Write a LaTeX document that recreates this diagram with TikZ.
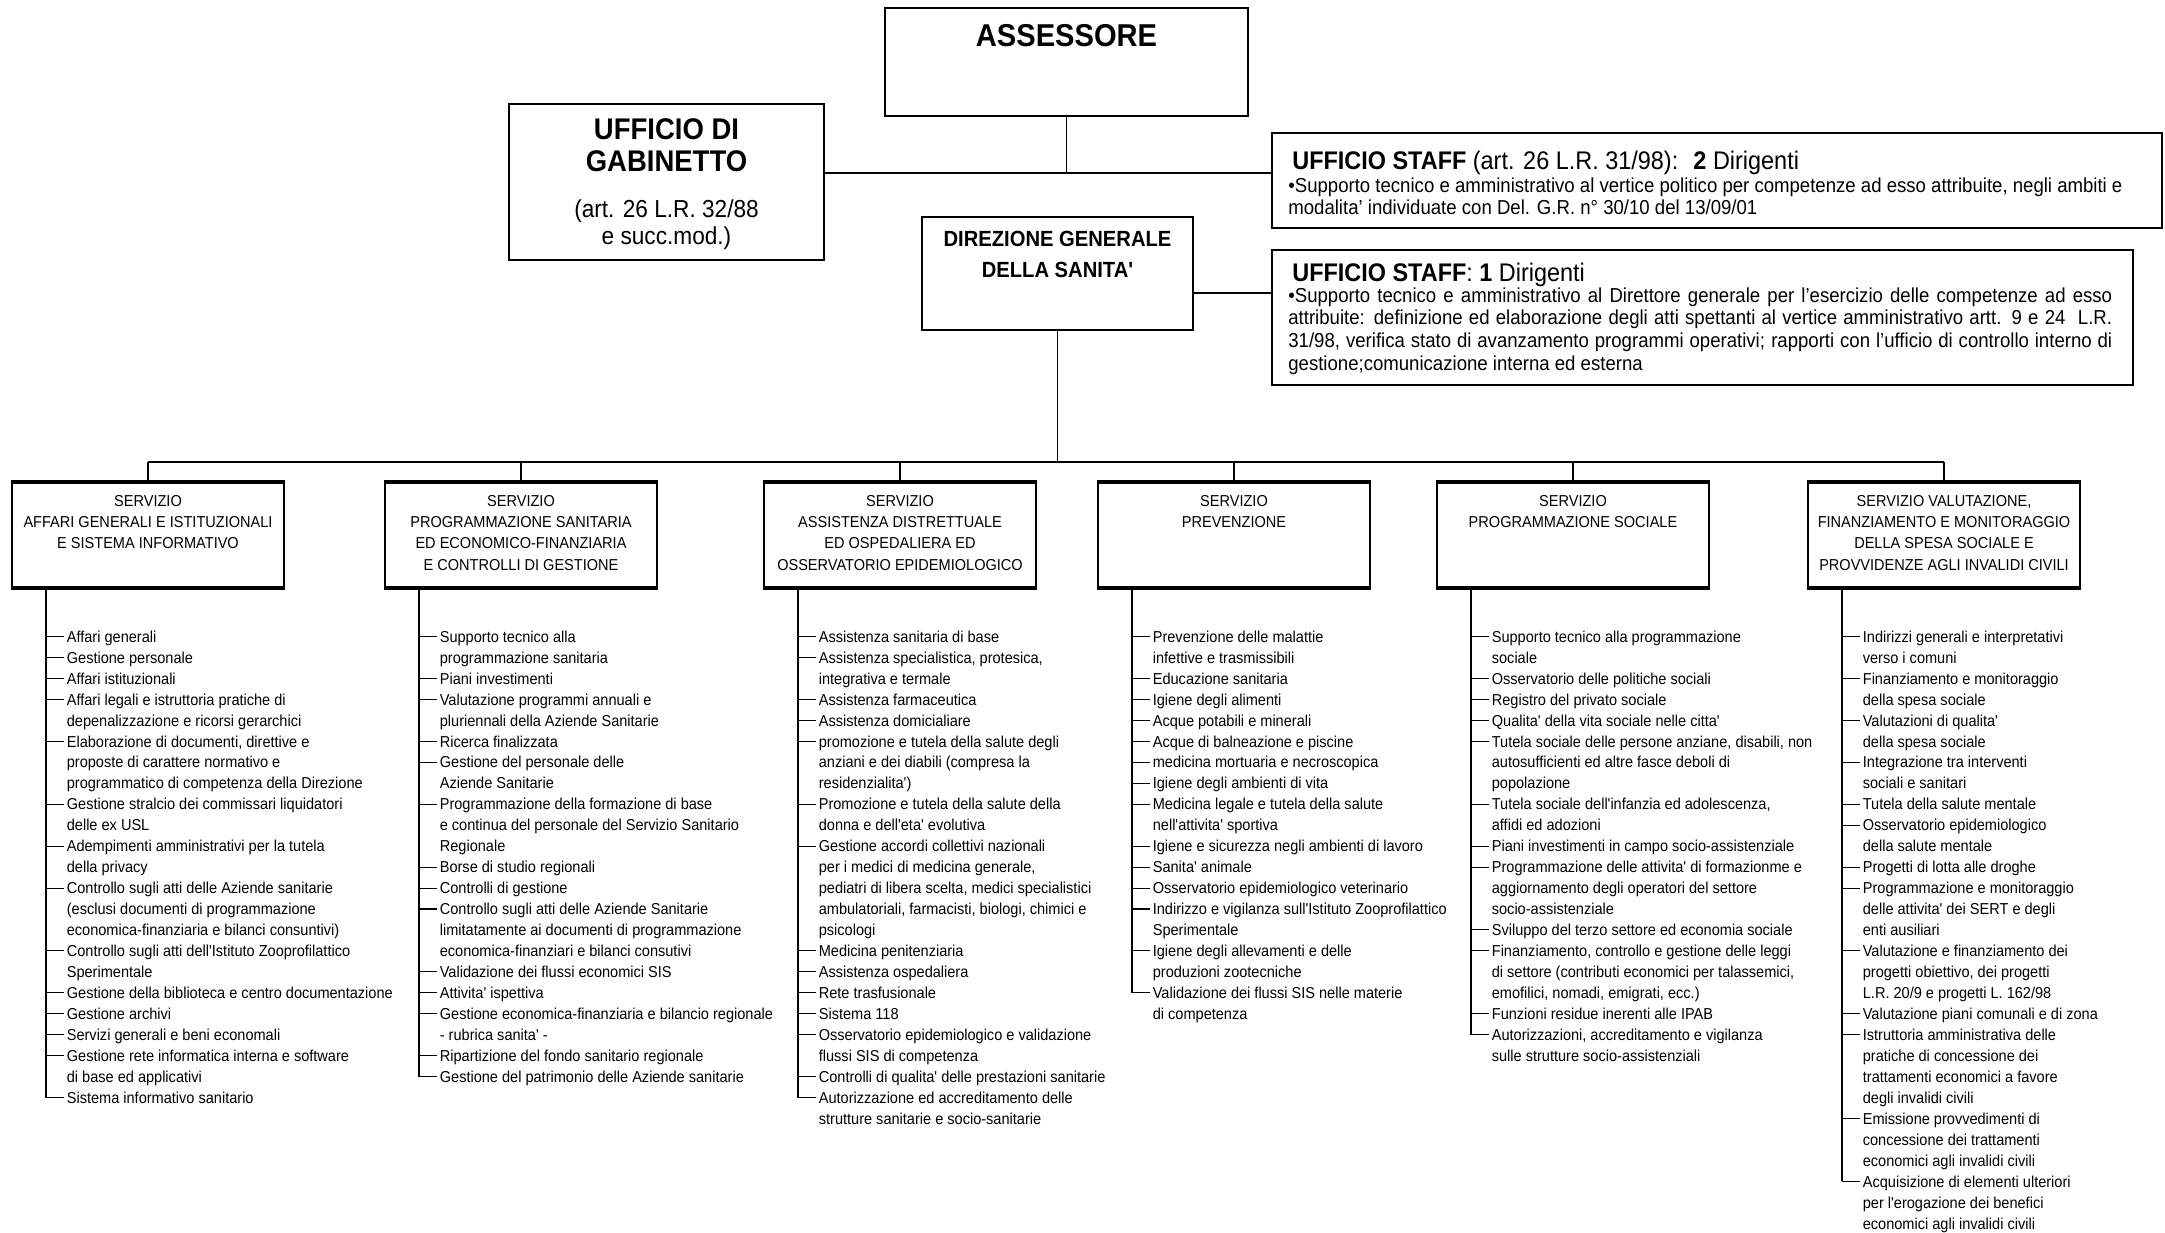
\documentclass[tikz,border=0pt]{standalone}
\usepackage{fontspec}
\setmainfont{Liberation Sans}[FakeStretch=0.92,Ligatures=TeXOff]
\usetikzlibrary{positioning}
\setlength{\parindent}{0pt}
\newcommand{\titolo}{\fontsize{18}{20}\selectfont\bfseries}
\newcommand{\gabtit}{\fontsize{17}{18.1}\selectfont\bfseries}
\newcommand{\gabrif}{\fontsize{14}{15.3}\selectfont}
\newcommand{\dirtit}{\fontsize{12.5}{17.6}\selectfont\bfseries}
\newcommand{\intest}{\fontsize{14.5}{16}\selectfont}
\newcommand{\corpo}{\fontsize{11.5}{13}\selectfont}
\newcommand{\sigla}{\fontsize{9}{12.2}\selectfont}
\newcommand{\voci}{\fontsize{9}{11}\selectfont}
\tikzset{
  riquadro/.style={draw, line width=1.5pt, inner sep=0pt}, % uffici in alto
  servizio/.style={draw, line width=0.9pt, minimum width=5.44cm, minimum height=2.08cm, inner sep=0pt},
  bordo/.style={line width=2.2pt}, % bordo spesso sopra e sotto
  filo/.style={line width=1pt},
  ramo/.style={line width=0.6pt},
  dicitura/.style={inner sep=0pt, align=center},
  voce/.style={anchor=west, inner xsep=0.05cm, inner ysep=0pt, text height=6.5pt, text depth=0pt, font=\voci}
}
% elenco delle funzioni: #1 servizio, #2 x del filo, #3 righe (1 = con ramo)
\newcommand{\funzioni}[3]{%
  \foreach \tk/\txt [count=\i] in {#3}{%
    \pgfmathsetmacro{\yy}{636.5+(\i-1)*20.96}
    \node[voce] (#1-\i) at ({#2+18},\yy) {\txt};
    \ifnum\tk=1
      \draw[ramo] (#2,0 |- #1-\i.west) -- (#1-\i.west);
      \xdef\ultimo{\i}%
    \fi
  }
  \draw[ramo] (#1.south -| #2,0) -- (#2,0 |- #1-\ultimo.west);
}

\begin{document}
\begin{tikzpicture}[x=0.02cm, y=-0.02cm]
\useasboundingbox (0,0) rectangle (2165,1232);

%Riquadri superiori
\node[riquadro, minimum width=7.26cm, minimum height=2.16cm] (ass) at (1066.5,62) {};
\node[dicitura, font=\titolo, below=0.35cm of ass.north] (ass-t) {ASSESSORE};

\node[riquadro, minimum width=6.3cm, minimum height=3.12cm] (gab) at (666.5,182) {};
\node[dicitura, font=\gabtit, below=0.32cm of gab.north] (gab-t) {UFFICIO DI\\GABINETTO};
\node[dicitura, font=\gabrif, below=0.54cm of gab-t] (gab-r) {(art. 26 L.R. 32/88\\e succ.mod.)};

\node[riquadro, minimum width=17.8cm, minimum height=1.9cm] (st1) at (1717,180.5) {};
\node[inner sep=0pt, anchor=base west, font=\intest] (st1-t) at (1292,169)
  {\textbf{UFFICIO STAFF} (art. 26 L.R. 31/98): \ \textbf{2} Dirigenti};
\node[inner sep=0pt, anchor=north west, align=left, font=\corpo] (st1-c) at (1288,177)
  {•Supporto tecnico e amministrativo al vertice politico per competenze ad esso attribuite, negli ambiti e\\
   modalita’ individuate con Del. G.R. n° 30/10 del 13/09/01};

\node[riquadro, minimum width=5.42cm, minimum height=2.26cm] (dir) at (1057.5,273.5) {};
\node[dicitura, font=\dirtit, below=0.3cm of dir.north] (dir-t) {DIREZIONE GENERALE\\DELLA SANITA'};

\node[riquadro, minimum width=17.22cm, minimum height=2.7cm] (st2) at (1702.5,317.5) {};
\node[inner sep=0pt, anchor=base west, font=\intest] (st2-t) at (1292,281)
  {\textbf{UFFICIO STAFF}: \textbf{1} Dirigenti};
\node[inner sep=0pt, anchor=north west, text width=16.48cm, align=justify, font=\corpo] (st2-c) at (1288,287)
  {•Supporto tecnico e amministrativo al Direttore generale per l’esercizio delle competenze ad esso\linebreak
   attribuite: definizione ed elaborazione degli atti spettanti al vertice amministrativo artt. 9 e 24 \ L.R.\linebreak
   31/98, verifica stato di avanzamento programmi operativi; rapporti con l’ufficio di controllo interno di\linebreak
   gestione;comunicazione interna ed esterna};

%Collegamenti
\coordinate (nodo) at (ass.south |- 0,173);
\draw[filo] (ass.south) -- (nodo);
\draw[filo] (gab.east |- nodo) -- (st1.west |- nodo);
\draw[filo] (dir.east |- 0,293) -- (st2.west |- 0,293);
\coordinate (bus) at (dir.south |- 0,462);
\draw[filo] (dir.south) -- (bus);

%Servizi
\foreach \n/\x/\txt in {
  1/148/{SERVIZIO\\AFFARI GENERALI E ISTITUZIONALI\\E SISTEMA INFORMATIVO},
  2/521/{SERVIZIO\\PROGRAMMAZIONE SANITARIA\\ED ECONOMICO-FINANZIARIA\\E CONTROLLI DI GESTIONE},
  3/900/{SERVIZIO\\ASSISTENZA DISTRETTUALE\\ED OSPEDALIERA ED\\OSSERVATORIO EPIDEMIOLOGICO},
  4/1234/{SERVIZIO\\PREVENZIONE},
  5/1573/{SERVIZIO\\PROGRAMMAZIONE SOCIALE},
  6/1944/{SERVIZIO VALUTAZIONE,\\FINANZIAMENTO E MONITORAGGIO\\DELLA SPESA SOCIALE E\\PROVVIDENZE AGLI INVALIDI CIVILI}}{
  \node[servizio] (s\n) at (\x,535) {};
  \draw[bordo] (s\n.north west) -- (s\n.north east) (s\n.south west) -- (s\n.south east);
  \node[dicitura, font=\sigla, below=0.25cm of s\n.north] (t\n) {\txt};
  \draw[filo] (s\n.north) -- (s\n.north |- bus);
}
\draw[filo] (s1.north |- bus) -- (s6.north |- bus);

%Funzioni
\funzioni{s1}{46}{1/Affari generali,
  1/Gestione personale,
  1/Affari istituzionali,
  1/Affari legali e istruttoria pratiche di,
  0/depenalizzazione e ricorsi gerarchici,
  1/{Elaborazione di documenti, direttive e},
  0/proposte di carattere normativo e,
  0/programmatico di competenza della Direzione,
  1/Gestione stralcio dei commissari liquidatori,
  0/delle ex USL,
  1/Adempimenti amministrativi per la tutela,
  0/della privacy,
  1/Controllo sugli atti delle Aziende sanitarie,
  0/(esclusi documenti di programmazione,
  0/economica-finanziaria e bilanci consuntivi),
  1/Controllo sugli atti dell'Istituto Zooprofilattico,
  0/Sperimentale,
  1/Gestione della biblioteca e centro documentazione,
  1/Gestione archivi,
  1/Servizi generali e beni economali,
  1/Gestione rete informatica interna e software,
  0/di base ed applicativi,
  1/Sistema informativo sanitario}

\funzioni{s2}{419}{1/Supporto tecnico alla,
  0/programmazione sanitaria,
  1/Piani investimenti,
  1/Valutazione programmi annuali e,
  0/pluriennali della Aziende Sanitarie,
  1/Ricerca finalizzata,
  1/Gestione del personale delle,
  0/Aziende Sanitarie,
  1/Programmazione della formazione di base,
  0/e continua del personale del Servizio Sanitario,
  0/Regionale,
  1/Borse di studio regionali,
  1/Controlli di gestione,
  1/Controllo sugli atti delle Aziende Sanitarie,
  0/limitatamente ai documenti di programmazione,
  0/economica-finanziari e bilanci consutivi,
  1/Validazione dei flussi economici SIS,
  1/Attivita' ispettiva,
  1/Gestione economica-finanziaria e bilancio regionale,
  0/- rubrica sanita' -,
  1/Ripartizione del fondo sanitario regionale,
  1/Gestione del patrimonio delle Aziende sanitarie}

\funzioni{s3}{798}{1/Assistenza sanitaria di base,
  1/{Assistenza specialistica, protesica,},
  0/integrativa e termale,
  1/Assistenza farmaceutica,
  1/Assistenza domicialiare,
  1/promozione e tutela della salute degli,
  0/anziani e dei diabili (compresa la,
  0/residenzialita'),
  1/Promozione e tutela della salute della,
  0/donna e dell'eta' evolutiva,
  1/Gestione accordi collettivi nazionali,
  0/{per i medici di medicina generale,},
  0/{pediatri di libera scelta, medici specialistici},
  0/{ambulatoriali, farmacisti, biologi, chimici e},
  0/psicologi,
  1/Medicina penitenziaria,
  1/Assistenza ospedaliera,
  1/Rete trasfusionale,
  1/Sistema 118,
  1/Osservatorio epidemiologico e validazione,
  0/flussi SIS di competenza,
  1/Controlli di qualita' delle prestazioni sanitarie,
  1/Autorizzazione ed accreditamento delle,
  0/strutture sanitarie e socio-sanitarie}

\funzioni{s4}{1132}{1/Prevenzione delle malattie,
  0/infettive e trasmissibili,
  1/Educazione sanitaria,
  1/Igiene degli alimenti,
  1/Acque potabili e minerali,
  1/Acque di balneazione e piscine,
  1/medicina mortuaria e necroscopica,
  1/Igiene degli ambienti di vita,
  1/Medicina legale e tutela della salute,
  0/nell'attivita' sportiva,
  1/Igiene e sicurezza negli ambienti di lavoro,
  1/Sanita' animale,
  1/Osservatorio epidemiologico veterinario,
  1/Indirizzo e vigilanza sull'Istituto Zooprofilattico,
  0/Sperimentale,
  1/Igiene degli allevamenti e delle,
  0/produzioni zootecniche,
  1/Validazione dei flussi SIS nelle materie,
  0/di competenza}

\funzioni{s5}{1471}{1/Supporto tecnico alla programmazione,
  0/sociale,
  1/Osservatorio delle politiche sociali,
  1/Registro del privato sociale,
  1/Qualita' della vita sociale nelle citta',
  1/{Tutela sociale delle persone anziane, disabili, non},
  0/autosufficienti ed altre fasce deboli di,
  0/popolazione,
  1/{Tutela sociale dell'infanzia ed adolescenza,},
  0/affidi ed adozioni,
  1/Piani investimenti in campo socio-assistenziale,
  1/Programmazione delle attivita' di formazionme e,
  0/aggiornamento degli operatori del settore,
  0/socio-assistenziale,
  1/Sviluppo del terzo settore ed economia sociale,
  1/{Finanziamento, controllo e gestione delle leggi},
  0/{di settore (contributi economici per talassemici,},
  0/{emofilici, nomadi, emigrati, ecc.)},
  1/Funzioni residue inerenti alle IPAB,
  1/{Autorizzazioni, accreditamento e vigilanza},
  0/sulle strutture socio-assistenziali}

\funzioni{s6}{1842}{1/Indirizzi generali e interpretativi,
  0/verso i comuni,
  1/Finanziamento e monitoraggio,
  0/della spesa sociale,
  1/Valutazioni di qualita',
  0/della spesa sociale,
  1/Integrazione tra interventi,
  0/sociali e sanitari,
  1/Tutela della salute mentale,
  1/Osservatorio epidemiologico,
  0/della salute mentale,
  1/Progetti di lotta alle droghe,
  1/Programmazione e monitoraggio,
  0/delle attivita' dei SERT e degli,
  0/enti ausiliari,
  1/Valutazione e finanziamento dei,
  0/{progetti obiettivo, dei progetti},
  0/{L.R. 20/9 e progetti L. 162/98},
  1/Valutazione piani comunali e di zona,
  1/Istruttoria amministrativa delle,
  0/pratiche di concessione dei,
  0/trattamenti economici a favore,
  0/degli invalidi civili,
  1/Emissione provvedimenti di,
  0/concessione dei trattamenti,
  0/economici agli invalidi civili,
  1/Acquisizione di elementi ulteriori,
  0/per l'erogazione dei benefici,
  0/economici agli invalidi civili}

\end{tikzpicture}
\end{document}
